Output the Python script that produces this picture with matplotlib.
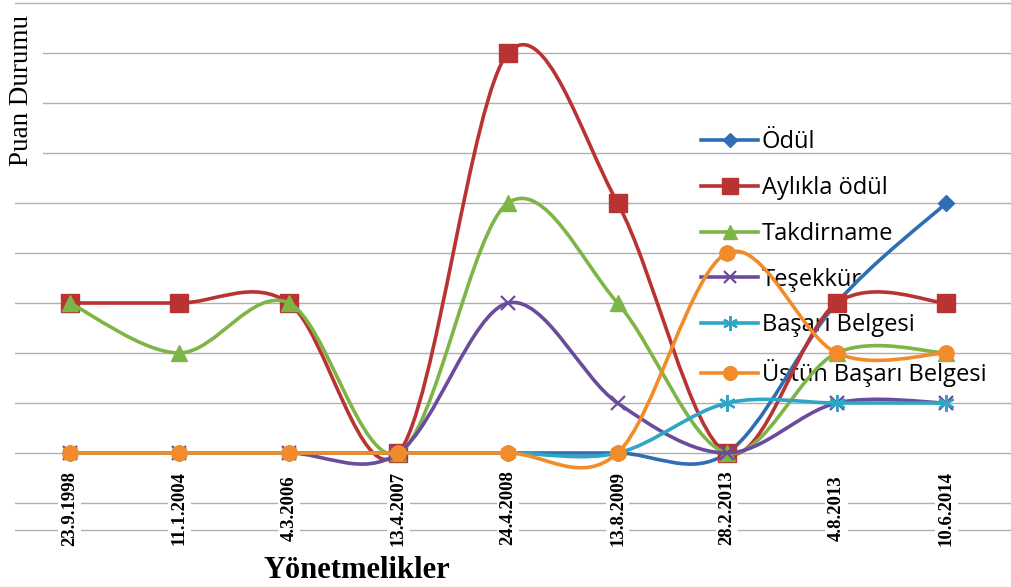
import matplotlib
matplotlib.use("Agg")
import matplotlib.pyplot as plt
from matplotlib.path import Path
from matplotlib.patches import PathPatch
from matplotlib.lines import Line2D

# regulation dates (x axis) and score per award type
dates = ["23.9.1998", "11.1.2004", "4.3.2006", "13.4.2007", "24.4.2008",
         "13.8.2009", "28.2.2013", "4.8.2013", "10.6.2014"]

odul = [0, 0, 0, 0, 0, 0, 0, 3, 5]
aylikla_odul = [3, 3, 3, 0, 8, 5, 0, 3, 3]
takdirname = [3, 2, 3, 0, 5, 3, 0, 2, 2]
tesekkur = [0, 0, 0, 0, 3, 1, 0, 1, 1]
basari_belgesi = [0, 0, 0, 0, 0, 0, 1, 1, 1]
ustun_basari = [0, 0, 0, 0, 0, 0, 4, 2, 2]

series = [
    ("Ödül", odul, "#2F6EB5", "D", 8),
    ("Aylıkla ödül", aylikla_odul, "#B93333", "s", 13),
    ("Takdirname", takdirname, "#7DB546", "^", 11),
    ("Teşekkür", tesekkur, "#6A4B9C", "x", 10),
    ("Başarı Belgesi", basari_belgesi, "#2FA6C4", (6, 2, 0), 12),
    ("Üstün Başarı Belgesi", ustun_basari, "#F28C2A", "o", 11),
]


def smooth_path(xs, ys):
    # Catmull-Rom style cubic Bezier through every point (spreadsheet "smoothed line")
    pts = list(zip(xs, ys))
    n = len(pts)
    verts = [pts[0]]
    codes = [Path.MOVETO]
    for i in range(n - 1):
        p0 = pts[i - 1] if i > 0 else pts[i]
        p1 = pts[i]
        p2 = pts[i + 1]
        p3 = pts[i + 2] if i + 2 < n else pts[i + 1]
        c1 = (p1[0] + (p2[0] - p0[0]) / 6, p1[1] + (p2[1] - p0[1]) / 6)
        c2 = (p2[0] - (p3[0] - p1[0]) / 6, p2[1] - (p3[1] - p1[1]) / 6)
        verts += [c1, c2, p2]
        codes += [Path.CURVE4] * 3
    return Path(verts, codes)


fig = plt.figure(figsize=(10.12, 5.87), dpi=100)
ax = fig.add_axes([15 / 1012, 1 - 545 / 587, 997 / 1012, 545 / 587])
ax.set_xlim(-0.5, 8.6)
ax.set_ylim(-1.84, 9.06)
ax.axis("off")

# horizontal grid
for g in list(range(-1, 10)) + [-1.54]:
    ax.axhline(g, color="#B0B0B0", lw=1.0, zorder=0)

x = list(range(len(dates)))
handles = []
for k, (name, vals, col, mk, ms) in enumerate(series):
    z = 3 + k
    ax.add_patch(PathPatch(smooth_path(x, vals), fill=False, edgecolor=col,
                           lw=2.6, zorder=z, capstyle="round"))
    mew = 1.6 if mk in ("x", (6, 2, 0)) else 1.0
    ax.plot(x, vals, ls="none", marker=mk, ms=ms, color=col, mec=col,
            mew=mew, zorder=z + 0.5)
    handles.append(Line2D([], [], color=col, lw=2.6, marker=mk, ms=ms * 0.9,
                          mec=col, mew=mew))

# date labels sit over the grid with a white backing
for i, d in enumerate(dates):
    ax.text(i, -1.1, d, rotation=90, ha="center", va="center",
            family="Liberation Serif", fontweight="bold", fontsize=13.5,
            bbox=dict(facecolor="white", edgecolor="none", pad=2), zorder=2)

leg = ax.legend(handles, [s[0] for s in series], loc="upper left",
                bbox_to_anchor=(677 / 997, 1 - 121 / 545), frameon=False,
                prop={"family": "Open Sans", "size": 17}, handlelength=2.4,
                handletextpad=0.15, labelspacing=0.92, borderaxespad=0)
leg.set_zorder(1)

fig.text(22 / 1012, 1 - 90 / 587, "Puan Durumu", rotation=90, ha="center",
         va="center", family="Liberation Serif", fontsize=19.5,
         bbox=dict(facecolor="white", edgecolor="none", pad=6))
fig.text(357 / 1012, 1 - 571 / 587, "Yönetmelikler", ha="center",
         va="center", family="Liberation Serif", fontweight="bold",
         fontsize=22)

fig.savefig("out.png", dpi=100)
